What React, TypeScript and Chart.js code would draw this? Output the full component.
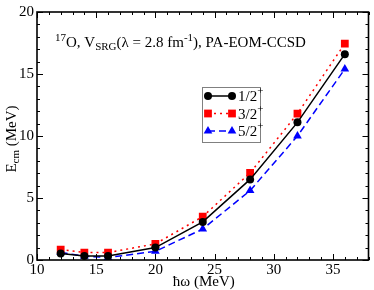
import React, { useEffect, useRef } from "react";
import { Chart, registerables } from "chart.js";

Chart.register(...registerables);

const hw = [12, 14, 16, 20, 24, 28, 32, 36];
const e12 = [0.53, 0.32, 0.33, 1.0, 3.07, 6.5, 11.1, 16.6];
const e32 = [0.84, 0.6, 0.6, 1.3, 3.5, 7.03, 11.8, 17.45];
const e52 = [0.62, 0.3, 0.2, 0.7, 2.5, 5.6, 10.0, 15.4];
const seriesLabels = ["1/2", "3/2", "5/2"];
const xMin = 10, xMax = 38, yMin = 0, yMax = 20;

const SERIF = "'Liberation Serif', 'DejaVu Serif', serif";

type Seg = { t: string; size: number; dy: number };

function drawSegs(ctx: CanvasRenderingContext2D, segs: Seg[], x: number, y: number) {
  let cx = x;
  for (const s of segs) {
    ctx.font = `${s.size}px ${SERIF}`;
    ctx.fillText(s.t, cx, y + s.dy);
    cx += ctx.measureText(s.t).width;
  }
  return cx - x;
}
function segsWidth(ctx: CanvasRenderingContext2D, segs: Seg[]) {
  let w = 0;
  for (const s of segs) {
    ctx.font = `${s.size}px ${SERIF}`;
    w += ctx.measureText(s.t).width;
  }
  return w;
}

function drawMarker(ctx: CanvasRenderingContext2D, style: string, x: number, y: number, r: number, color: string) {
  ctx.save();
  ctx.fillStyle = color;
  ctx.beginPath();
  if (style === "circle") {
    ctx.arc(x, y, r, 0, Math.PI * 2);
  } else if (style === "rect") {
    const s = Math.SQRT1_2 * r;
    ctx.rect(x - s, y - s, 2 * s, 2 * s);
  } else {
    ctx.moveTo(x, y - r);
    ctx.lineTo(x + r * Math.sin(Math.PI * 2 / 3), y - r * Math.cos(Math.PI * 2 / 3));
    ctx.lineTo(x - r * Math.sin(Math.PI * 2 / 3), y - r * Math.cos(Math.PI * 2 / 3));
    ctx.closePath();
  }
  ctx.fill();
  ctx.restore();
}

const framePlugin = {
  id: "frame",
  afterDraw(chart: any) {
    const ctx: CanvasRenderingContext2D = chart.ctx;
    const { left, right, top, bottom } = chart.chartArea;
    const xs = chart.scales.x;
    const ys = chart.scales.y;
    ctx.save();
    ctx.strokeStyle = "#000";
    ctx.lineWidth = 1;
    ctx.beginPath();
    for (let v = xMin; v <= xMax; v++) {
      const px = Math.round(xs.getPixelForValue(v)) + 0.5;
      const len = v % 5 === 0 ? 6 : 3;
      ctx.moveTo(px, bottom);
      ctx.lineTo(px, bottom - len);
      ctx.moveTo(px, top);
      ctx.lineTo(px, top + len);
    }
    for (let v = yMin; v <= yMax; v++) {
      const py = Math.round(ys.getPixelForValue(v)) + 0.5;
      const len = v % 5 === 0 ? 6 : 3;
      ctx.moveTo(left, py);
      ctx.lineTo(left + len, py);
      ctx.moveTo(right, py);
      ctx.lineTo(right - len, py);
    }
    ctx.stroke();
    ctx.lineWidth = 1.6;
    ctx.strokeRect(left, top, right - left, bottom - top);

    // annotation
    ctx.fillStyle = "#000";
    ctx.textBaseline = "alphabetic";
    ctx.textAlign = "left";
    drawSegs(ctx, [
      { t: "17", size: 11, dy: -6 },
      { t: "O, V", size: 15, dy: 0 },
      { t: "SRG", size: 11, dy: 3 },
      { t: "(λ = 2.8 fm", size: 15, dy: 0 },
      { t: "-1", size: 11, dy: -6 },
      { t: "), PA-EOM-CCSD", size: 15, dy: 0 },
    ], 55, 47);

    // legend
    const lx = 202, ly = 87, lw = 58, lh = 55;
    ctx.fillStyle = "#fff";
    ctx.fillRect(lx, ly, lw, lh);
    ctx.strokeStyle = "#808080";
    ctx.lineWidth = 1;
    ctx.strokeRect(lx + 0.5, ly + 0.5, lw, lh);
    const rows = [96, 113.5, 131];
    chart.data.datasets.forEach((ds: any, i: number) => {
      const yy = rows[i];
      ctx.save();
      ctx.strokeStyle = ds.borderColor;
      ctx.lineWidth = ds.borderWidth;
      ctx.setLineDash(ds.borderDash || []);
      ctx.beginPath();
      ctx.moveTo(208, yy);
      ctx.lineTo(232, yy);
      ctx.stroke();
      ctx.restore();
      drawMarker(ctx, ds.pointStyle, 208, yy, ds.pointRadius, ds.backgroundColor);
      drawMarker(ctx, ds.pointStyle, 232, yy, ds.pointRadius, ds.backgroundColor);
      ctx.fillStyle = "#000";
      drawSegs(ctx, [
        { t: seriesLabels[i], size: 15, dy: 0 },
        { t: "+", size: 11, dy: -7 },
      ], 238, yy + 5);
    });

    // axis titles
    const xt: Seg[] = [{ t: "ħω (MeV)", size: 15, dy: 0 }];
    const xw = segsWidth(ctx, xt);
    drawSegs(ctx, xt, (left + right) / 2 - xw / 2 + 1, 286);

    const yt: Seg[] = [
      { t: "E", size: 15, dy: 0 },
      { t: "cm", size: 11, dy: 3 },
      { t: " (MeV)", size: 15, dy: 0 },
    ];
    const yw = segsWidth(ctx, yt);
    ctx.translate(16, (top + bottom) / 2 + 3);
    ctx.rotate(-Math.PI / 2);
    drawSegs(ctx, yt, -yw / 2, 0);
    ctx.restore();
  },
};

export default function App() {
  const ref = useRef<HTMLCanvasElement>(null);
  useEffect(() => {
    if (!ref.current) return;
    const mk = (d: number[]) => hw.map((x, i) => ({ x, y: d[i] }));
    const tickFont = { family: SERIF, size: 15 };
    const chart = new Chart(ref.current, {
      type: "scatter",
      data: {
        datasets: [
          {
            label: "1/2+",
            data: mk(e12),
            showLine: true,
            borderColor: "#000000",
            backgroundColor: "#000000",
            borderWidth: 1.5,
            pointStyle: "circle",
            pointRadius: 4,
            pointBorderWidth: 0,
          },
          {
            label: "3/2+",
            data: mk(e32),
            showLine: true,
            borderColor: "#ff0000",
            backgroundColor: "#ff0000",
            borderWidth: 1.5,
            borderDash: [2, 4],
            pointStyle: "rect",
            pointRadius: 5.5,
            pointBorderWidth: 0,
          },
          {
            label: "5/2+",
            data: mk(e52),
            showLine: true,
            borderColor: "#0000ff",
            backgroundColor: "#0000ff",
            borderWidth: 1.5,
            borderDash: [7, 4],
            pointStyle: "triangle",
            pointRadius: 5,
            pointBorderWidth: 0,
          },
        ] as any,
      },
      options: {
        animation: false,
        responsive: false,
        layout: { padding: { top: 6, right: 2, left: 0, bottom: 0 } },
        plugins: { legend: { display: false }, tooltip: { enabled: false } },
        scales: {
          x: {
            type: "linear",
            min: xMin,
            max: xMax,
            grid: { display: false, drawTicks: false },
            border: { display: false },
            ticks: {
              stepSize: 1,
              autoSkip: false,
              maxRotation: 0,
              padding: 1,
              color: "#000",
              font: tickFont,
              callback: (v: any) => (Number(v) % 5 === 0 ? String(v) : ""),
            },
            afterFit: (s: any) => { s.height = 30; },
          },
          y: {
            type: "linear",
            min: yMin,
            max: yMax,
            grid: { display: false, drawTicks: false },
            border: { display: false },
            ticks: {
              stepSize: 1,
              autoSkip: false,
              padding: 3,
              color: "#000",
              font: tickFont,
              callback: (v: any) => (Number(v) % 5 === 0 ? String(v) : ""),
            },
            afterFit: (s: any) => { s.width = 37; },
          },
        },
      } as any,
      plugins: [framePlugin],
    });
    return () => chart.destroy();
  }, []);
  return (
    <div style={{ position: "fixed", left: 0, top: 0, width: 374, height: 290, background: "#fff" }}>
      <canvas ref={ref} width={374} height={290} style={{ width: 374, height: 290 }} />
    </div>
  );
}
